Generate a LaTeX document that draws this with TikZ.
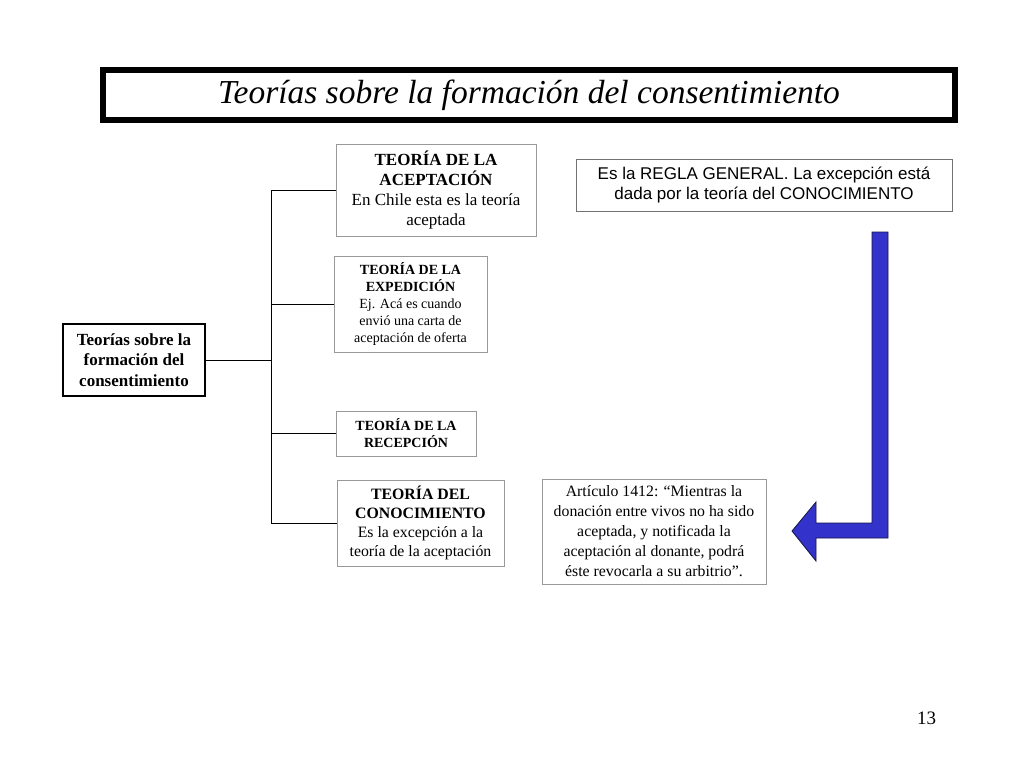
\documentclass[tikz,border=0pt]{standalone}
\usepackage{fontspec}
\setmainfont{Liberation Serif}
\newfontfamily\arialfont{Liberation Sans}
\begin{document}
\begin{tikzpicture}[x=1pt,y=-1pt,
  graybox/.style={draw=black!40, line width=0.9pt, fill=white, align=center, inner sep=0pt},
  blackbox/.style={draw=black, line width=1.2pt, fill=white, align=center, inner sep=0pt},
  conn/.style={draw=black, line width=1pt}
]
\useasboundingbox (0,0) rectangle (1024,768);
\definecolor{arrowblue}{RGB}{51,51,204}
\definecolor{arrowedge}{RGB}{20,20,70}

% title
\node[draw=black, line width=6pt, fill=white, minimum width=852pt, minimum height=50pt,
      inner sep=0pt, font=\fontsize{33.5}{36}\selectfont\itshape] (title) at (529,95)
      {Teorías sobre la formación del consentimiento};

% left box
\node[blackbox, minimum width=142pt, minimum height=72pt,
      font=\fontsize{17}{20.5}\selectfont\bfseries] (root) at (134,360)
      {Teorías sobre la\\formación del\\consentimiento};

% branch boxes
\node[graybox, minimum width=200pt, minimum height=92pt,
      font=\fontsize{17}{20.3}\selectfont] (acep) at (436,190)
      {\textbf{TEORÍA DE LA}\\\textbf{ACEPTACIÓN}\\En Chile esta es la teoría\\aceptada};
\node[graybox, minimum width=153pt, minimum height=96pt,
      font=\fontsize{14}{17}\selectfont] (exped) at (410.5,304)
      {\textbf{TEORÍA DE LA}\\\textbf{EXPEDICIÓN}\\Ej. Acá es cuando\\envió una carta de\\aceptación de oferta};
\node[graybox, minimum width=140pt, minimum height=45pt,
      font=\fontsize{14}{17}\selectfont\bfseries] (recep) at (406,433.5)
      {TEORÍA DE LA\\RECEPCIÓN};
\node[graybox, minimum width=167pt, minimum height=86pt,
      font=\fontsize{15.8}{19}\selectfont] (conoc) at (420.5,523)
      {\textbf{TEORÍA DEL}\\\textbf{CONOCIMIENTO}\\Es la excepción a la\\teoría de la aceptación};

% right boxes
\node[graybox, draw=black!55, minimum width=376pt, minimum height=52pt,
      font=\arialfont\fontsize{17}{20}\selectfont] (regla) at (764,185)
      {Es la REGLA GENERAL. La excepción está\\dada por la teoría del CONOCIMIENTO};
\node[graybox, minimum width=224pt, minimum height=105pt,
      font=\fontsize{15.8}{20}\selectfont] (art) at (654,531.5)
      {Artículo 1412: “Mientras la\\donación entre vivos no ha sido\\aceptada, y notificada la\\aceptación al donante, podrá\\éste revocarla a su arbitrio”.};

% connectors
\coordinate (hub) at (271,360);
\draw[conn] (root.east) -- (hub);
\draw[conn] (acep.west) -| (hub);
\draw[conn] (exped.west) -| (hub);
\draw[conn] (recep.west) -| (hub);
\draw[conn] (conoc.west) -| (hub);

% block arrow
\filldraw[fill=arrowblue, draw=arrowedge, line width=0.8pt, line join=miter]
  (872,232) -- (888,232) -- (888,538) -- (816,538) -- (816,561) -- (792,531)
  -- (816,502) -- (816,523) -- (872,523) -- cycle;

% page number
\node[font=\fontsize{19}{22}\selectfont, inner sep=0pt] (pnum) at (926.5,718) {13};
\end{tikzpicture}
\end{document}
